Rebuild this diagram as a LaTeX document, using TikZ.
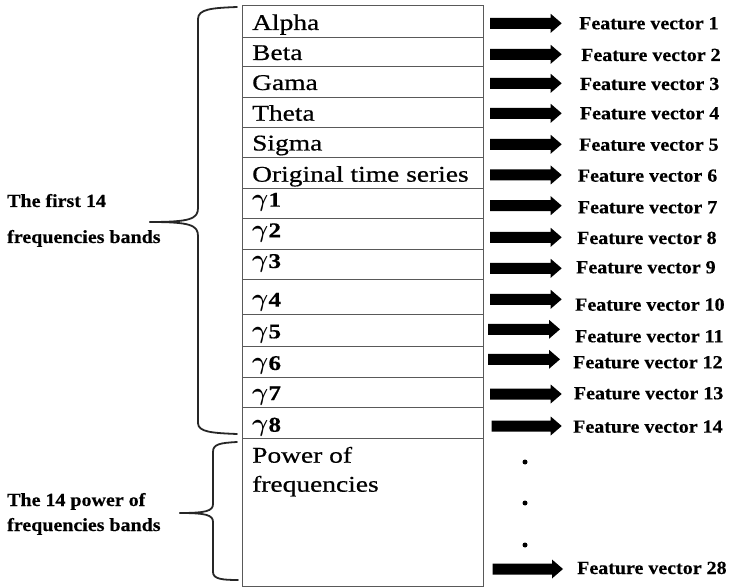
\documentclass[tikz,border=0pt]{standalone}
\usepackage{fontspec}
\setmainfont{Liberation Serif}
\newfontfamily\cellfont[FakeStretch=1.22,FakeBold=0.6]{Liberation Serif}
\newfontfamily\gamfont[FakeStretch=1.2,FakeBold=0.4]{Liberation Serif}
\newfontfamily\labfont[FakeStretch=1.08,FakeBold=0.4]{Liberation Serif}
\usetikzlibrary{calc}
\tikzset{
  rowbox/.style={draw=black!65, line width=1pt, minimum width=240.5pt, inner sep=0pt, outer sep=0pt},
  celltext/.style={anchor=base west, inner sep=0pt, font=\cellfont\fontsize{22.5}{29}\selectfont},
  gamtext/.style={anchor=base west, inner sep=0pt, font=\gamfont\fontsize{21}{29}\selectfont},
  feat/.style={anchor=base west, inner sep=0pt, font=\labfont\bfseries\fontsize{18.5}{22}\selectfont},
  side/.style={anchor=base west, inner sep=0pt, font=\labfont\bfseries\fontsize{18.5}{22}\selectfont},
  bracepath/.style={line width=1.8pt, draw=black!85, line cap=round},
  dotnode/.style={circle, fill=black, inner sep=0pt, minimum size=5pt},
}
\newcommand{\gam}[1]{{\fontsize{23}{29}\selectfont\boldmath$\gamma$}\textbf{#1}}
\begin{document}
\begin{tikzpicture}[x=1pt,y=-1pt]
\useasboundingbox (0,0) rectangle (729,588);
% table rows
\foreach \n/\t/\b in {1/6/37.5,2/37.5/67,3/67/97.5,4/97.5/128,5/128/158,6/158/188.5,7/188.5/219,8/219/249.5,9/249.5/280,10/280/314.3,11/314.3/346.7,12/346.7/377.7,13/377.7/407.7,14/407.7/438.3,p/438.3/586}
  \node[rowbox, minimum height={\b pt-\t pt}] (r\n) at (362.75,{(\t+\b)/2}) {};
% cell texts
\node[celltext] (t1) at (252,30) {Alpha};
\node[celltext] (t2) at (252,60) {Beta};
\node[celltext] (t3) at (252,90) {Gama};
\node[celltext] (t4) at (252,120.7) {Theta};
\node[celltext] (t5) at (252,150.5) {Sigma};
\node[celltext] (t6) at (252,181.7) {Original time series};
\node[gamtext] (t7) at (252,206.7) {\gam{1}};
\node[gamtext] (t8) at (252,237.3) {\gam{2}};
\node[gamtext] (t9) at (252,268) {\gam{3}};
\node[gamtext] (t10) at (252,306.7) {\gam{4}};
\node[gamtext] (t11) at (252,338.3) {\gam{5}};
\node[gamtext] (t12) at (252,370) {\gam{6}};
\node[gamtext] (t13) at (252,400) {\gam{7}};
\node[gamtext] (t14) at (252,431.7) {\gam{8}};
\node[celltext] (tp1) at (252,462.7) {Power of};
\node[celltext] (tp2) at (252,491.7) {frequencies};
% feature labels and arrows
\foreach \n/\sx/\ex/\ay/\lx/\ly in {1/490/561.7/23.3/579/29.3, 2/490/561.7/54.3/581/61, 3/490/561.7/83.3/579.7/90, 4/490/561.7/113.3/579.7/119.3, 5/490/561.7/144.3/579/150.7, 6/490/561.7/175/577.7/181.7, 7/490/561.7/205.7/577.7/213.3, 8/490/561.7/237.3/577/244, 9/490/561.7/268.3/576/273.3, 10/490/561.7/299.3/575/310.7, 11/488/560/329.3/575/342.3, 12/488/560/359.3/573/368.3, 13/490/561.7/394/573.7/399.3, 14/491.7/561.7/426/573/432.7, 28/492.7/563/569/577/574}
{
  \coordinate (s\n) at (\sx,\ay);
  \coordinate (e\n) at (\ex,\ay);
  \fill ($(s\n)+(0,-5.5)$) -- ($(e\n)+(-11,-5.5)$) -- ($(e\n)+(-11,-9.5)$) -- (e\n)
        -- ($(e\n)+(-11,9.5)$) -- ($(e\n)+(-11,5.5)$) -- ($(s\n)+(0,5.5)$) -- cycle;
  \node[feat] (f\n) at (\lx,\ly) {Feature vector \n};
}
% dots
\node[dotnode] (d1) at (525,462) {};
\node[dotnode] (d2) at (525,503) {};
\node[dotnode] (d3) at (525,545) {};
% side labels
\node[side] (L1) at (7,207) {The first 14};
\node[side] (L2) at (7,243) {frequencies bands};
\node[side] (L3) at (7,506) {The 14 power of};
\node[side] (L4) at (7,531) {frequencies bands};
% braces
\draw[bracepath] (237,7) .. controls (212,8) and (198,9) .. (198,19) -- (198,208) .. controls (198,219) and (190,222) .. (150,222);
\draw[bracepath] (150,222) .. controls (190,222) and (198,225) .. (198,236) -- (198,423) .. controls (198,432) and (212,433) .. (237,434);
\draw[bracepath] (237,442) .. controls (220,443) and (213,444) .. (213,452) -- (213,504) .. controls (213,511) and (206,513) .. (180,513);
\draw[bracepath] (180,513) .. controls (206,513) and (213,515) .. (213,522) -- (213,572) .. controls (213,579) and (222,580) .. (238,580);
\end{tikzpicture}
\end{document}
